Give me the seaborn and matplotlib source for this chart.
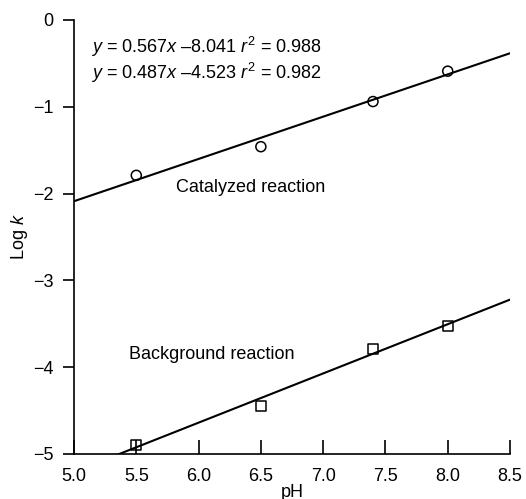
import numpy as np
import pandas as pd
import matplotlib
matplotlib.use("Agg")
import matplotlib.pyplot as plt
import seaborn as sns

# data
ph = [5.5, 6.5, 7.4, 8.0]
logk_catalyzed = [-1.79, -1.46, -0.94, -0.59]
logk_background = [-4.90, -4.45, -3.79, -3.53]

# regression lines as printed in the figure
fit_background = (0.567, -8.041, 0.988)
fit_catalyzed = (0.487, -4.523, 0.982)

sns.set_style("ticks", {"axes.edgecolor": "black", "text.color": "black",
                        "axes.labelcolor": "black", "xtick.color": "black",
                        "ytick.color": "black"})
plt.rcParams["font.family"] = ["Liberation Sans", "DejaVu Sans"]
plt.rcParams["mathtext.fontset"] = "custom"
plt.rcParams["mathtext.rm"] = "Liberation Sans"
plt.rcParams["mathtext.it"] = "Liberation Sans:italic"

df = pd.DataFrame({
    "pH": ph * 2,
    "logk": logk_catalyzed + logk_background,
    "reaction": ["Catalyzed"] * 4 + ["Background"] * 4,
})

fig = plt.figure(figsize=(5.26, 4.99), dpi=100)
ax = fig.add_axes([0.1407, 0.0902, 0.8289, 0.8698])

xs = np.array([5.0, 8.5])
for slope, icpt, r2 in [fit_catalyzed, fit_background]:
    sns.lineplot(x=xs, y=slope * xs + icpt, color="black", lw=1.5, ax=ax)

sns.scatterplot(data=df, x="pH", y="logk", style="reaction",
                markers={"Catalyzed": "o", "Background": "s"},
                facecolor="none", edgecolor="black", linewidth=1.1,
                s=52, legend=False, ax=ax, zorder=3)

fs = 13
ax.set_xlim(5.0, 8.5)
ax.set_ylim(-5, 0)
ax.set_xticks(np.arange(5.0, 8.51, 0.5))
ax.set_xticklabels([f"{v:.1f}" for v in np.arange(5.0, 8.51, 0.5)])
ax.set_yticks([0, -1, -2, -3, -4, -5])
ax.set_yticklabels(["0", "\u22121", "\u22122", "\u22123", "\u22124", "\u22125"])
ax.tick_params(axis="x", direction="in", length=10, width=1.2, labelsize=fs, pad=10)
ax.tick_params(axis="y", direction="out", length=8, width=1.2, labelsize=fs, pad=7)
for s in ["left", "bottom"]:
    ax.spines[s].set_linewidth(1.2)
sns.despine(ax=ax)

ax.set_xlabel("pH", fontsize=fs)
ax.xaxis.set_label_coords(0.5, -0.068)
ax.set_ylabel(r"Log $k$", fontsize=fs)
ax.yaxis.set_label_coords(-0.10, 0.5)

dash = "\u2013"
m, b, r2 = fit_background
ax.text(5.14, -0.31, f"$y$ = {m:.3f}$x$ {dash}{abs(b):.3f} $r^2$ = {r2:.3f}",
        fontsize=fs, va="center")
m, b, r2 = fit_catalyzed
ax.text(5.14, -0.61, f"$y$ = {m:.3f}$x$ {dash}{abs(b):.3f} $r^2$ = {r2:.3f}",
        fontsize=fs, va="center")
ax.text(5.82, -1.93, "Catalyzed reaction", fontsize=fs, va="center")
ax.text(5.44, -3.85, "Background reaction", fontsize=fs, va="center")

fig.savefig("out.png", dpi=100)
